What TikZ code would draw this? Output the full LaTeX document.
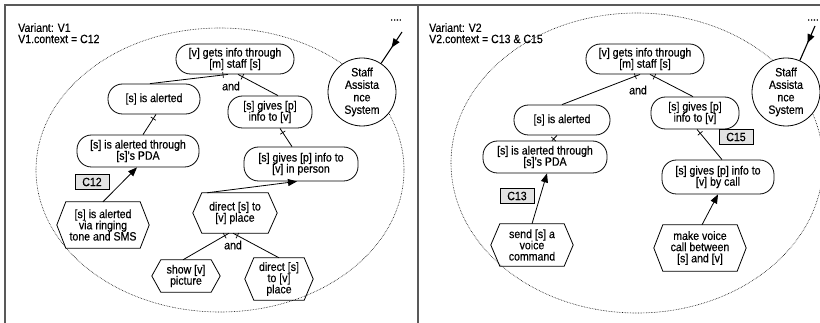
\documentclass[tikz,border=0pt]{standalone}
\usepackage{fontspec}
\setmainfont{Liberation Sans}[FakeStretch=0.88,FakeBold=0.4]
\usetikzlibrary{shapes.misc,arrows.meta,calc,decorations.markings}
\newcommand\taskhex[6]{%
  \node[hextext,minimum width=#4pt,minimum height=#5pt] (#1) at (#2,#3) {#6};
  \draw[hexline] (#1.west) -- ($(#1.north west)+(9,0)$) -- ($(#1.north east)+(-9,0)$) -- (#1.east) -- ($(#1.south east)+(-9,0)$) -- ($(#1.south west)+(9,0)$) -- cycle;}
\begin{document}
\begin{tikzpicture}[x=1pt,y=-1pt,
  txt/.style={font=\fontsize{12}{11.2}\selectfont, align=center, inner sep=0pt},
  goal/.style={txt, draw, fill=white, rectangle, rounded corners=14.5pt, line width=0.8pt},
  hextext/.style={txt},
  hexline/.style={line width=0.8pt},
  ctx/.style={txt, draw, fill=gray!22, line width=0.7pt, minimum width=34pt, minimum height=15pt},
  frameline/.style={draw=gray!70!black, line width=1.8pt},
  boundary/.style={densely dotted, line width=0.6pt},
  actor/.style={txt, font=\fontsize{12}{12.5}\selectfont, draw, fill=white, circle, line width=0.8pt, minimum size=68pt},
  meansend/.style={-{Triangle[length=9pt,width=7pt]}, line width=0.8pt},
  decomp/.style={line width=0.8pt, postaction={decorate}, decoration={markings, mark=at position -5pt with {\draw[line width=0.7pt] (0pt,-3pt) -- (0pt,3pt);}}},
  deplink/.style={line width=1.1pt, postaction={decorate}, decoration={markings, mark=at position 0.5 with {\arrow{Triangle[length=9pt,width=7pt]}}}},
]
\useasboundingbox (0,0) rectangle (820,323);
% frames
\draw[frameline] (5,323) -- (5,5) -- (820,5);
\draw[frameline] (418,5) -- (418,323);
% boundaries
\draw[boundary] (220,170) ellipse [x radius=184pt, y radius=142pt];
\draw[boundary] (637,163) ellipse [x radius=186pt, y radius=150pt];

% ---------- left panel ----------
\node[txt, anchor=north west, align=left] (v1) at (18,23) {Variant: V1\\V1.context = C12};
\node[txt] (dots1) at (396,20) {....};
\coordinate (src1) at (402,32);
\node[actor] (actL) at (362,92) {Staff\\Assista\\nce\\System};
\draw[deplink] (src1) -- (actL);

\node[goal, minimum width=118pt, minimum height=30pt] (g1L) at (235,59) {[v] gets info through\\{}[m] staff [s]};
\node[goal, minimum width=92pt, minimum height=30pt] (iaL) at (154,99) {[s] is alerted};
\node[goal, minimum width=84pt, minimum height=32pt] (gpL) at (270,112) {[s] gives [p]\\info to [v]};
\node[goal, minimum width=122pt, minimum height=32pt] (pdaL) at (138,151) {[s] is alerted through\\{}[s]'s PDA};
\node[goal, minimum width=114pt, minimum height=34pt] (ipL) at (301,164) {[s] gives [p] info to\\{}[v] in person};
\node[ctx] (c12) at (92,182) {C12};
\taskhex{hsL}{103}{225}{92}{46}{[s] is alerted\\via ringing\\tone and SMS}
\taskhex{dirL}{235}{213}{84}{40}{direct [s] to\\{}[v] place}
\taskhex{showL}{186}{276}{68}{32}{show [v]\\picture}
\taskhex{dir2L}{279}{279}{68}{42}{direct [s]\\to [v]\\place}
\node[txt] (andL1) at (231,86) {and};
\node[txt] (andL2) at (233,245) {and};

\draw[decomp] ($(iaL.north)+(-4,0)$) -- ($(g1L.south)+(-7,0)$);
\draw[decomp] ($(gpL.north)+(8,0)$) -- ($(g1L.south)+(3,0)$);
\draw[decomp] ($(pdaL.north)+(5,0)$) -- ($(iaL.south)+(2,0)$);
\draw[decomp] ($(ipL.north)+(-9,0)$) -- ($(gpL.south)+(10,0)$);
\draw[decomp] ($(showL.north)+(-3,0)$) -- ($(dirL.south)+(-6,0)$);
\draw[decomp] (dir2L.north) -- ($(dirL.south)+(-2,0)$);
\draw[meansend] (hsL.north) -- ($(pdaL.south)+(-1,0)$);
\draw[meansend] ($(dirL.north)+(-28,0)$) -- ($(ipL.south)+(-4,0)$);

% ---------- right panel ----------
\node[txt, anchor=north west, align=left] (v2) at (429,23) {Variant: V2\\V2.context = C13 \& C15};
\node[txt] (dots2) at (813,20) {....};
\coordinate (src2) at (815,26);
\node[actor] (actR) at (786,92) {Staff\\Assista\\nce\\System};
\draw[deplink] (src2) -- (actR);

\node[goal, minimum width=118pt, minimum height=30pt] (g1R) at (645,59) {[v] gets info through\\{}[m] staff [s]};
\node[goal, minimum width=96pt, minimum height=30pt] (iaR) at (562,120) {[s] is alerted};
\node[goal, minimum width=88pt, minimum height=32pt] (gpR) at (695,113) {[s] gives [p]\\info to [v]};
\node[goal, minimum width=124pt, minimum height=32pt] (pdaR) at (545,157) {[s] is alerted through\\{}[s]'s PDA};
\node[ctx] (c15) at (736,137) {C15};
\node[goal, minimum width=112pt, minimum height=34pt] (bcR) at (718,177) {[s] gives [p] info to\\{}[v] by call};
\node[ctx] (c13) at (517,196) {C13};
\taskhex{sendR}{532}{245}{82}{42}{send [s] a\\voice\\command}
\taskhex{mvR}{700}{248}{92}{46}{make voice\\call between\\{}[s] and [v]}
\node[txt] (andR) at (638,90) {and};

\draw[decomp] (iaR.north) -- ($(g1R.south)+(-5,0)$);
\draw[decomp] ($(gpR.north)+(-2,0)$) -- ($(g1R.south)+(5,0)$);
\draw[decomp] ($(pdaR.north)+(7,0)$) -- ($(iaR.south)+(-5,0)$);
\draw[decomp] ($(bcR.north)+(4,0)$) -- ($(gpR.south)+(2,0)$);
\draw[meansend] (sendR.north) -- ($(pdaR.south)+(2,0)$);
\draw[meansend] ($(mvR.north)+(2,0)$) -- (bcR.south);
\end{tikzpicture}
\end{document}
